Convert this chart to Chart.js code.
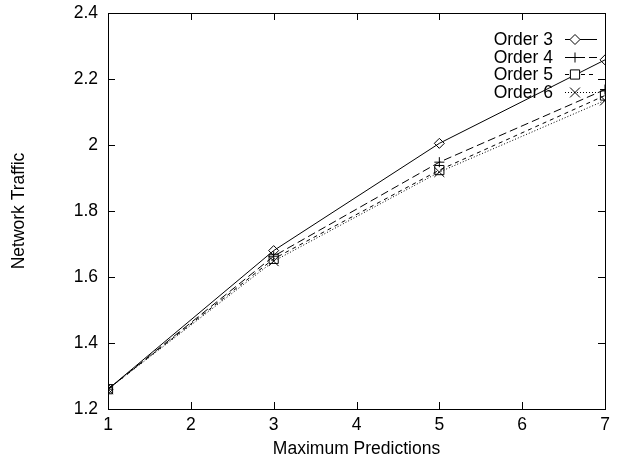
<!DOCTYPE html>
<html lang="en">
<head>
<meta charset="UTF-8">
<title>Network Traffic</title>
<style>
  html, body {
    margin: 0;
    padding: 0;
    background: white;
  }
  .wrap {
    width: 621px;
    height: 463px;
  }
</style>
<script src="https://cdn.jsdelivr.net/npm/chart.js"></script>
</head>
<body>
<div class="wrap">
  <canvas id="trafficChart" width="621" height="463"></canvas>
</div>
<script>
// max predictions on the x axis
const predictions = [1, 3, 5, 7];

// network traffic per order
const order3 = [1.26, 1.68, 2.005, 2.258];
const order4 = [1.26, 1.663, 1.948, 2.168];
const order5 = [1.26, 1.655, 1.924, 2.15];
const order6 = [1.26, 1.648, 1.918, 2.135];

const seriesNames = ['Order 3', 'Order 4', 'Order 5', 'Order 6'];
const xTicks = [1, 2, 3, 4, 5, 6, 7];
const yTicks = [1.2, 1.4, 1.6, 1.8, 2, 2.2, 2.4];

const FONT = "'Liberation Sans', Arial, sans-serif";
const FONT_SIZE = 17.5;

function toPoints(vals) {
  return vals.map((v, i) => ({ x: predictions[i], y: v }));
}

const styles = [
  { dash: [], point: 'rectRot', r: 5 },
  { dash: [8, 4], point: 'cross', r: 5 },
  { dash: [4, 4], point: 'rect', r: 6.5 },
  { dash: [1, 2], point: 'crossRot', r: 7 }
];

const allSeries = [order3, order4, order5, order6];

const datasets = allSeries.map((vals, i) => ({
  label: seriesNames[i],
  data: toPoints(vals),
  borderColor: '#000',
  backgroundColor: 'rgba(0,0,0,0)',
  borderWidth: 1,
  borderDash: styles[i].dash,
  pointStyle: styles[i].point,
  pointRadius: styles[i].r,
  pointBorderColor: '#000',
  pointBackgroundColor: 'rgba(0,0,0,0)',
  pointBorderWidth: 1,
  tension: 0
}));

// frame with inward ticks on every side, gnuplot style
const framePlugin = {
  id: 'frame',
  afterDraw(chart) {
    const { ctx, chartArea: a, scales } = chart;
    ctx.save();
    ctx.strokeStyle = '#000';
    ctx.lineWidth = 1;
    ctx.setLineDash([]);
    ctx.strokeRect(a.left + 0.5, a.top + 0.5, a.right - a.left, a.bottom - a.top);
    const len = 7;
    ctx.beginPath();
    xTicks.forEach(t => {
      const x = Math.round(scales.x.getPixelForValue(t)) + 0.5;
      ctx.moveTo(x, a.bottom); ctx.lineTo(x, a.bottom - len);
      ctx.moveTo(x, a.top); ctx.lineTo(x, a.top + len);
    });
    yTicks.forEach(t => {
      const y = Math.round(scales.y.getPixelForValue(t)) + 0.5;
      ctx.moveTo(a.left, y); ctx.lineTo(a.left + len, y);
      ctx.moveTo(a.right, y); ctx.lineTo(a.right - len, y);
    });
    ctx.stroke();
    ctx.restore();
  }
};

// key in the top right corner: label, then line sample with marker
const keyPlugin = {
  id: 'key',
  afterDatasetsDraw(chart) {
    const { ctx, chartArea: a } = chart;
    ctx.save();
    ctx.font = FONT_SIZE + 'px ' + FONT;
    ctx.textAlign = 'right';
    ctx.textBaseline = 'middle';
    chart.data.datasets.forEach((ds, i) => {
      const y = a.top + 26 + i * 17.7;
      ctx.fillStyle = '#000';
      ctx.fillText(ds.label, a.right - 52, y + 1);
      ctx.strokeStyle = '#000';
      ctx.lineWidth = 1;
      ctx.setLineDash(ds.borderDash);
      ctx.beginPath();
      ctx.moveTo(a.right - 40, Math.round(y) + 0.5);
      ctx.lineTo(a.right - 8, Math.round(y) + 0.5);
      ctx.stroke();
      ctx.setLineDash([]);
      ctx.fillStyle = '#fff';
      Chart.helpers.drawPoint(ctx, {
        pointStyle: ds.pointStyle,
        radius: ds.pointRadius,
        borderWidth: 1
      }, a.right - 30, Math.round(y) + 0.5);
    });
    ctx.restore();
  }
};

new Chart(document.getElementById('trafficChart').getContext('2d'), {
  type: 'line',
  data: { datasets: datasets },
  plugins: [framePlugin, keyPlugin],
  options: {
    responsive: false,
    animation: false,
    layout: { padding: { top: 13, right: 16, left: 0, bottom: 0 } },
    plugins: {
      legend: { display: false },
      tooltip: { enabled: false }
    },
    scales: {
      x: {
        type: 'linear',
        min: 1,
        max: 7,
        afterFit(scale) {
          scale.height = 54;
          scale.paddingLeft = 0;
          scale.paddingRight = 0;
        },
        afterBuildTicks(scale) { scale.ticks = xTicks.map(v => ({ value: v })); },
        grid: { display: false, drawTicks: false },
        border: { display: false },
        ticks: {
          color: '#000',
          font: { family: FONT, size: FONT_SIZE },
          padding: 6,
          callback: v => String(v)
        },
        title: {
          display: true,
          text: 'Maximum Predictions',
          color: '#000',
          font: { family: FONT, size: FONT_SIZE },
          padding: { top: 0, bottom: 3 }
        }
      },
      y: {
        min: 1.2,
        max: 2.4,
        afterFit(scale) {
          scale.width = 108;
          scale.paddingTop = 0;
          scale.paddingBottom = 0;
        },
        afterBuildTicks(scale) { scale.ticks = yTicks.map(v => ({ value: v })); },
        grid: { display: false, drawTicks: false },
        border: { display: false },
        ticks: {
          color: '#000',
          font: { family: FONT, size: FONT_SIZE },
          padding: 10,
          callback: v => String(+v.toFixed(1))
        },
        title: {
          display: true,
          text: 'Network Traffic',
          color: '#000',
          font: { family: FONT, size: FONT_SIZE },
          padding: { top: 9, bottom: 0 }
        }
      }
    }
  }
});
</script>
</body>
</html>
